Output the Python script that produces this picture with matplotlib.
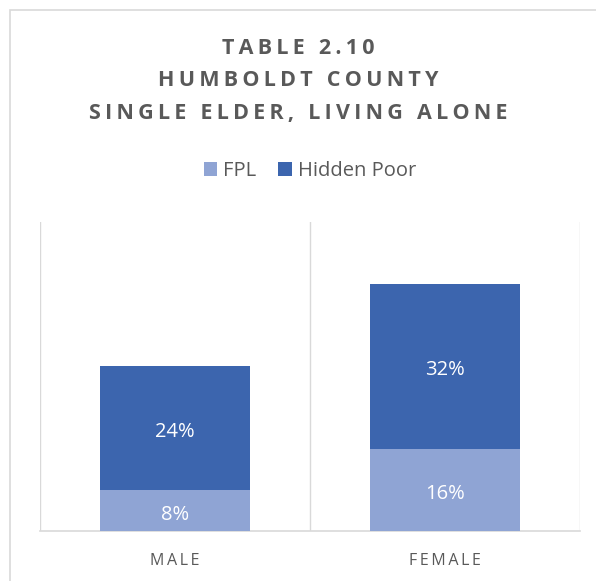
import matplotlib.pyplot as plt
from matplotlib.patches import Rectangle
from matplotlib.transforms import offset_copy

# data
categories = ['MALE', 'FEMALE']
fpl = [8, 16]
hidden_poor = [24, 32]
series_names = ['FPL', 'Hidden Poor']
title_lines = ['TABLE 2.10', 'HUMBOLDT COUNTY', 'SINGLE ELDER, LIVING ALONE']

c_fpl = '#8FA4D4'
c_hidden = '#3C65AE'
c_text = '#595959'
c_grid = '#D9D9D9'

plt.rcParams['font.family'] = ['Open Sans', 'DejaVu Sans']


def spaced(s):
    # letter spacing with thin spaces
    return '\u2009'.join(s)


fig = plt.figure(figsize=(5.96, 5.81), dpi=100)
ax = fig.add_axes([40 / 596, 50 / 581, 540 / 596, 309 / 581])

x = list(range(len(categories)))
b1 = ax.bar(x, fpl, width=0.555, color=c_fpl, label=series_names[0], zorder=3)
b2 = ax.bar(x, hidden_poor, width=0.555, bottom=fpl, color=c_hidden,
            label=series_names[1], zorder=3)

# labels sit a little below the segment centre, like Excel does
lab_tr = offset_copy(ax.transData, fig=fig, x=0, y=-3, units='points')
for bars, vals, bottoms in [(b1, fpl, [0, 0]), (b2, hidden_poor, fpl)]:
    for rect, v, b in zip(bars, vals, bottoms):
        ax.text(rect.get_x() + rect.get_width() / 2, b + v / 2, f'{v}%',
                ha='center', va='center', color='white', fontsize=14.5, zorder=4,
                transform=lab_tr)

ax.set_xlim(-0.5, 1.5)
ax.set_ylim(0, 60)
for xv in [-0.5, 0.5, 1.5]:
    ax.axvline(xv, color=c_grid, lw=1, zorder=1)
for s in ['top', 'right', 'left']:
    ax.spines[s].set_visible(False)
ax.spines['bottom'].set_color(c_grid)
ax.spines['bottom'].set_linewidth(1.2)
ax.set_yticks([])
ax.set_xticks(x)
ax.set_xticklabels([spaced(c) for c in categories], color=c_text, fontsize=11.5)
ax.tick_params(axis='x', length=0, pad=16)

# title
for i, line in enumerate(title_lines):
    fig.text(0.5, 1 - (48 + 33 * i) / 581, spaced(line), ha='center', va='center',
             fontsize=15.5, fontweight='bold', color=c_text)

leg = fig.legend(loc='center', bbox_to_anchor=(0.52, 1 - 171 / 581), ncol=2,
                 frameon=False, fontsize=14.5, handlelength=0.65, handleheight=0.65,
                 columnspacing=1.1, handletextpad=0.3)
for t in leg.get_texts():
    t.set_color(c_text)

# chart border
fig.patches.append(Rectangle((10 / 596, -0.1), 1.2, 1 - 10 / 581 + 0.1,
                             transform=fig.transFigure, fill=False,
                             edgecolor=c_grid, lw=1.2))

fig.savefig('out.png', dpi=100)
